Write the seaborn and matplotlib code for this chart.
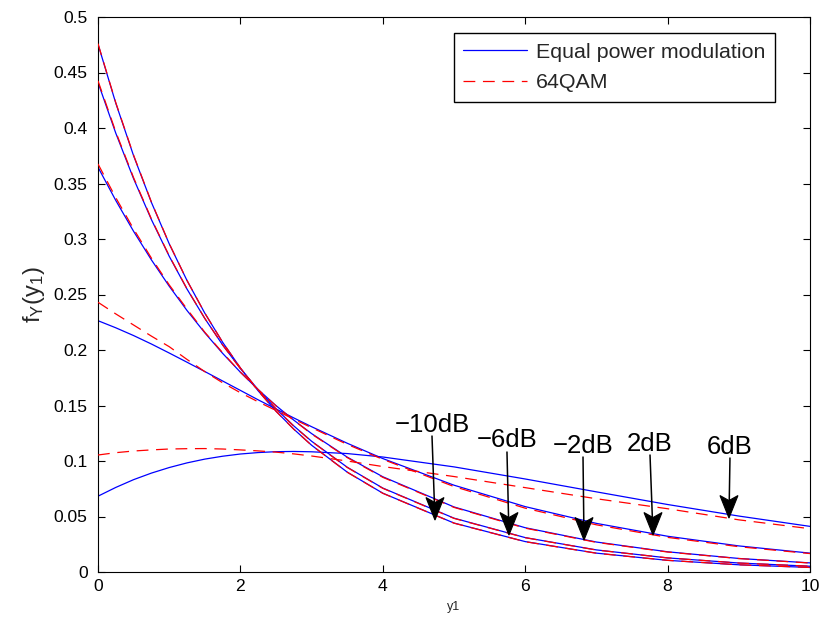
import matplotlib
matplotlib.use("Agg")
import matplotlib.pyplot as plt
import seaborn as sns
import pandas as pd
from matplotlib.patches import Polygon
from matplotlib.transforms import ScaledTranslation

# ---- data ----
y1 = [0, 0.25, 0.5, 0.75, 1, 1.25, 1.5, 1.75, 2, 2.25, 2.5, 2.75, 3, 3.5, 4, 5, 6, 7, 8, 9, 10]

snr_labels = ["\u221210dB", "\u22126dB", "\u22122dB", "2dB", "6dB"]

equal_m10 = [0.4756, 0.4223, 0.3750, 0.3330, 0.2957, 0.2626, 0.2332, 0.2070, 0.1838, 0.1632,
             0.1449, 0.1287, 0.1142, 0.0900, 0.0710, 0.0441, 0.0274, 0.0170, 0.0105, 0.0065, 0.0041]
equal_m6 = [0.4410, 0.3953, 0.3543, 0.3175, 0.2845, 0.2549, 0.2284, 0.2046, 0.1833, 0.1641,
            0.1470, 0.1316, 0.1178, 0.0944, 0.0756, 0.0485, 0.0310, 0.0199, 0.0127, 0.0081, 0.0052]
equal_m2 = [0.3647, 0.3347, 0.3069, 0.2812, 0.2575, 0.2356, 0.2155, 0.1970, 0.1800, 0.1643,
            0.1499, 0.1368, 0.1247, 0.1035, 0.0858, 0.0586, 0.0399, 0.0270, 0.0182, 0.0122, 0.0082]
equal_p2 = [0.2264, 0.2200, 0.2130, 0.2054, 0.1973, 0.1890, 0.1806, 0.1721, 0.1636, 0.1551,
            0.1469, 0.1388, 0.1309, 0.1160, 0.1022, 0.0782, 0.0589, 0.0438, 0.0322, 0.0235, 0.0170]
equal_p6 = [0.0683, 0.0762, 0.0832, 0.0891, 0.0941, 0.0983, 0.1017, 0.1043, 0.1063, 0.1076,
            0.1084, 0.1086, 0.1083, 0.1067, 0.1036, 0.0947, 0.0838, 0.0722, 0.0608, 0.0504, 0.0411]

qam_m10 = [0.4760, 0.4228, 0.3755, 0.3333, 0.2959, 0.2627, 0.2333, 0.2070, 0.1838, 0.1631,
           0.1448, 0.1286, 0.1141, 0.0899, 0.0709, 0.0440, 0.0273, 0.0169, 0.0105, 0.0065, 0.0041]
qam_m6 = [0.4425, 0.3965, 0.3552, 0.3181, 0.2849, 0.2551, 0.2285, 0.2046, 0.1832, 0.1640,
          0.1468, 0.1314, 0.1176, 0.0942, 0.0754, 0.0483, 0.0309, 0.0198, 0.0127, 0.0081, 0.0052]
qam_m2 = [0.3676, 0.3372, 0.3090, 0.2828, 0.2587, 0.2369, 0.2160, 0.1976, 0.1800, 0.1643,
          0.1496, 0.1366, 0.1243, 0.1031, 0.0853, 0.0582, 0.0395, 0.0267, 0.0180, 0.0121, 0.0081]
qam_p2 = [0.2430, 0.2325, 0.2225, 0.2125, 0.2030, 0.1915, 0.1805, 0.1705, 0.1615, 0.1533,
          0.1455, 0.1377, 0.1300, 0.1150, 0.1015, 0.0770, 0.0575, 0.0425, 0.0312, 0.0228, 0.0166]
qam_p6 = [0.1054, 0.1075, 0.1090, 0.1100, 0.1108, 0.1111, 0.1112, 0.1108, 0.1100, 0.1091,
          0.1080, 0.1064, 0.1045, 0.1000, 0.0950, 0.0860, 0.0760, 0.0660, 0.0570, 0.0470, 0.0390]

# annotation anchors: text centre x / baseline y, arrow tail and arrow tip
label_x = [4.698, 5.744, 6.812, 7.753, 8.869]
label_y = [0.1261, 0.1126, 0.1072, 0.1090, 0.1063]
tail_xy = [(4.691, 0.1225), (5.744, 0.1081), (6.812, 0.1036), (7.753, 0.1054), (8.876, 0.1027)]
tip_xy = [(4.733, 0.0468), (5.772, 0.0333), (6.826, 0.0288), (7.795, 0.0333), (8.862, 0.0486)]

x_ticks = [0, 2, 4, 6, 8, 10]
y_ticks = [0, 0.05, 0.1, 0.15, 0.2, 0.25, 0.3, 0.35, 0.4, 0.45, 0.5]
y_tick_labels = ["0", "0.05", "0.1", "0.15", "0.2", "0.25", "0.3", "0.35", "0.4", "0.45", "0.5"]

# ---- styling ----
sns.set_theme(style="white")
plt.rcParams["font.family"] = ["Liberation Sans", "DejaVu Sans"]
plt.rcParams["mathtext.default"] = "regular"
plt.rcParams["lines.scale_dashes"] = False

fig = plt.figure(figsize=(8.19, 6.30), dpi=100)
ax = fig.add_axes([98 / 819, 58 / 630, 712 / 819, 555 / 630])

equal_series = [equal_m10, equal_m6, equal_m2, equal_p2, equal_p6]
qam_series = [qam_m10, qam_m6, qam_m2, qam_p2, qam_p6]

blue_handle = None
red_handle = None
for eq, qm in zip(equal_series, qam_series):
    df = pd.DataFrame({"y1": y1, "eq": eq, "qam": qm})
    n0 = len(ax.get_lines())
    sns.lineplot(data=df, x="y1", y="eq", ax=ax, color=(0, 0, 1), lw=0.9,
                 zorder=2, legend=False)
    blue_line = ax.get_lines()[n0]
    sns.lineplot(data=df, x="y1", y="qam", ax=ax, color=(1, 0, 0), lw=0.9,
                 zorder=3, legend=False)
    red_line = ax.get_lines()[n0 + 1]
    red_line.set_dashes((8.5, 5.5))
    if blue_handle is None:
        blue_handle, red_handle = blue_line, red_line

ax.set_xlim(0, 10)
ax.set_ylim(0, 0.5)
ax.set_xticks(x_ticks)
ax.set_xticklabels([str(t) for t in x_ticks])
ax.set_yticks(y_ticks)
ax.set_yticklabels(y_tick_labels)
ax.tick_params(direction="in", length=5, width=0.8, labelsize=12.6, colors="black",
               top=True, right=True, bottom=True, left=True)
ax.tick_params(axis="y", pad=7.5)
ax.tick_params(axis="x", pad=5)
for s in ax.spines.values():
    s.set_visible(True)
    s.set_color("black")
    s.set_linewidth(0.8)

ax.set_xlabel("y1", fontsize=9, labelpad=5)
ax.set_ylabel("f$_Y$(y$_1$)", fontsize=17, labelpad=5)

for lab, lx, ly, tl, tp in zip(snr_labels, label_x, label_y, tail_xy, tip_xy):
    ax.text(lx, ly, lab, ha="center", va="baseline", fontsize=18.5, color="black")
    # shaft
    ax.annotate("", xy=tp, xytext=tl,
                arrowprops=dict(arrowstyle="-", color="black", lw=1.1,
                                shrinkA=0, shrinkB=8))
    # barbed (slightly concave back) arrow head, size in inches at the tip
    trans = fig.dpi_scale_trans + ScaledTranslation(tp[0], tp[1], ax.transData)
    head = Polygon([(0, 0), (-0.09, 0.225), (0, 0.175), (0.09, 0.225)], closed=True,
                   transform=trans, facecolor="black", edgecolor="black", lw=0.8,
                   zorder=5, clip_on=False)
    ax.add_artist(head)

leg = ax.legend([blue_handle, red_handle], ["Equal power modulation", "64QAM"],
                loc="upper right", bbox_to_anchor=(0.9508, 0.9712), borderaxespad=0,
                fontsize=15.4, handlelength=3.0, handletextpad=0.4, borderpad=0.45,
                labelspacing=0.55, frameon=True, fancybox=False, edgecolor="black",
                framealpha=1)
leg.get_frame().set_linewidth(1.0)

fig.savefig("out.png", dpi=100, facecolor="white")
